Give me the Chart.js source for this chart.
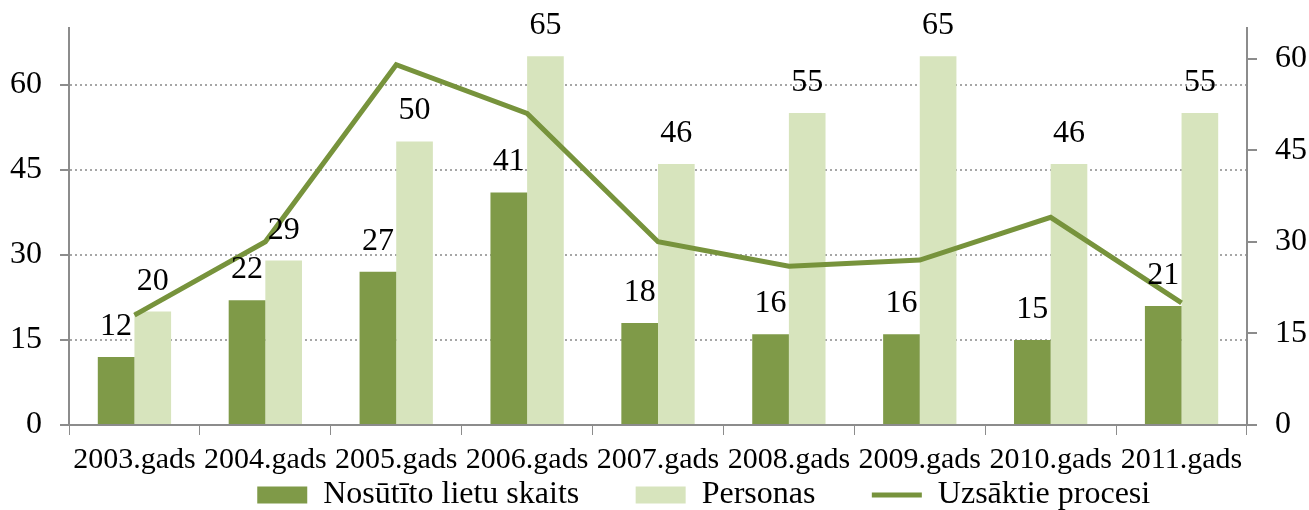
<!DOCTYPE html>
<html>
<head>
<meta charset="utf-8">
<script src="https://cdn.jsdelivr.net/npm/chart.js@4"></script>
<style>
  html, body { margin: 0; padding: 0; background: #fff; }
  #wrap { width: 1309px; height: 510px; }
</style>
</head>
<body>
<div id="wrap"><canvas id="chart"></canvas></div>
<script>
// data
const years = ['2003.gads', '2004.gads', '2005.gads', '2006.gads', '2007.gads', '2008.gads', '2009.gads', '2010.gads', '2011.gads'];
const sentCases = [12, 22, 27, 41, 18, 16, 16, 15, 21];      // Nosūtīto lietu skaits
const persons = [20, 29, 50, 65, 46, 55, 65, 46, 55];        // Personas
const startedProcs = [18, 30, 59, 51, 30, 26, 27, 34, 20];   // Uzsāktie procesi (right axis)
const seriesNames = ['Nosūtīto lietu skaits', 'Personas', 'Uzsāktie procesi'];

const darkGreen = '#7f9a48';
const lightGreen = '#d7e4bd';
const lineGreen = '#77933c';
const axisGrey = '#8c8c8c';

Chart.defaults.font.family = '"Liberation Serif", "Times New Roman", serif';
Chart.defaults.color = '#000';

// value labels above the bars
const barLabels = {
	id: 'barLabels',
	afterDatasetsDraw: function ( chart ) {
		const ctx = chart.ctx;
		ctx.save();
		ctx.font = '32px "Liberation Serif"';
		ctx.fillStyle = '#000';
		ctx.textAlign = 'center';
		ctx.textBaseline = 'alphabetic';
		[ 0, 1 ].forEach( function ( i ) {
			chart.getDatasetMeta( i ).data.forEach( function ( bar, j ) {
				ctx.fillText( String( chart.data.datasets[ i ].data[ j ] ), bar.x, bar.y - 22 );
			} );
		} );
		ctx.restore();
	}
};

// fixed width, no extra room reserved for the tick labels
function fixY( width ) {
	return function ( scale ) {
		scale.width = width;
		scale.paddingTop = 0;
		scale.paddingBottom = 0;
	};
}

new Chart( document.getElementById( 'chart' ), {
	type: 'bar',
	data: {
		labels: years,
		datasets: [ {
			label: seriesNames[ 0 ],
			data: sentCases,
			backgroundColor: darkGreen,
			borderWidth: 0,
			yAxisID: 'y',
			order: 1
		}, {
			label: seriesNames[ 1 ],
			data: persons,
			backgroundColor: lightGreen,
			borderWidth: 0,
			yAxisID: 'y',
			order: 1
		}, {
			type: 'line',
			label: seriesNames[ 2 ],
			data: startedProcs,
			borderColor: lineGreen,
			backgroundColor: lineGreen,
			borderWidth: 5,
			pointRadius: 0,
			tension: 0,
			yAxisID: 'y1',
			order: 0
		} ]
	},
	options: {
		responsive: true,
		maintainAspectRatio: false,
		animation: false,
		categoryPercentage: 0.56,
		barPercentage: 1,
		layout: { padding: { top: 28, left: 0, right: 0, bottom: 0 } },
		plugins: {
			tooltip: { enabled: false },
			legend: {
				position: 'bottom',
				align: 'end',
				maxHeight: 33,
				labels: {
					usePointStyle: true,
					pointStyleWidth: 50,
					boxHeight: 17,
					padding: 2,
					font: { size: 32 },
					generateLabels: function ( chart ) {
						const items = Chart.defaults.plugins.legend.labels.generateLabels( chart );
						items.sort( ( a, b ) => a.datasetIndex - b.datasetIndex );
						items.forEach( function ( item ) {
							if ( item.datasetIndex === 2 ) {
								item.pointStyle = 'line';
								item.lineWidth = 5;
								item.strokeStyle = lineGreen;
								item.text = item.text + '\u2003\u2003\u2003\u2003\u2002\u2009\u2009';
							} else {
								item.pointStyle = 'rect';
								item.lineWidth = 0;
								item.text = item.text + '\u2003\u2002\u2009';
							}
						} );
						return items;
					}
				}
			}
		},
		scales: {
			x: {
				grid: {
					display: true,
					drawOnChartArea: false,
					offset: true,
					color: axisGrey,
					tickLength: 10
				},
				border: { color: axisGrey, width: 2 },
				ticks: { font: { size: 30 }, padding: 7, maxRotation: 0, autoSkip: false },
				afterFit: function ( scale ) { scale.height = 52; }
			},
			y: {
				position: 'left',
				min: 0,
				max: 70,
				grid: {
					color: '#a6a6a6',
					lineWidth: 2,
					tickLength: 9,
					tickColor: axisGrey,
					tickBorderDash: []
				},
				border: { color: axisGrey, width: 2, dash: [ 2, 3 ] },
				ticks: { stepSize: 15, includeBounds: false, font: { size: 32 }, padding: 18 },
				afterFit: fixY( 69 )
			},
			y1: {
				position: 'right',
				min: 0,
				max: 65,
				grid: {
					drawOnChartArea: false,
					tickLength: 10,
					color: axisGrey,
					lineWidth: 2
				},
				border: { color: axisGrey, width: 2 },
				ticks: { stepSize: 15, includeBounds: false, font: { size: 32 }, padding: 18 },
				afterFit: fixY( 62 )
			}
		}
	},
	plugins: [ barLabels ]
} );
</script>
</body>
</html>
